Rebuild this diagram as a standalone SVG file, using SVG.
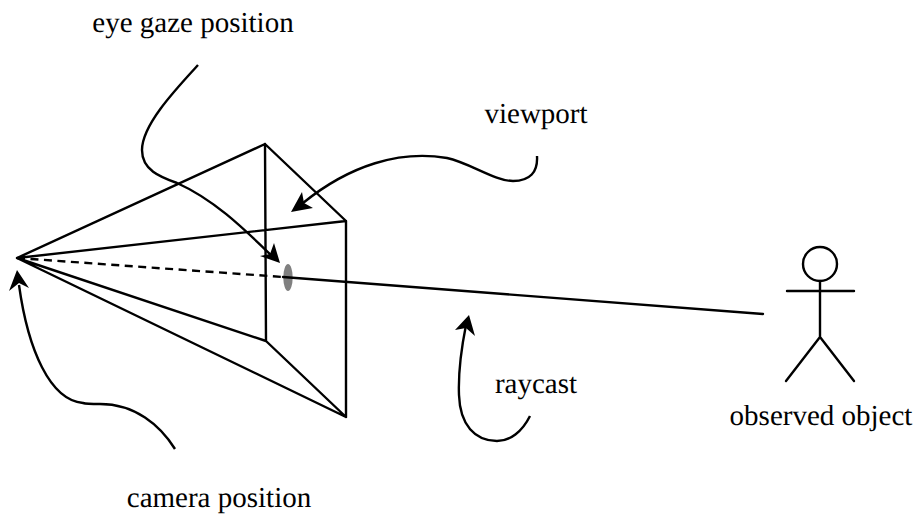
<svg xmlns="http://www.w3.org/2000/svg" width="915" height="516" viewBox="0 0 915 516">
<defs>
<style>
.l{fill:none;stroke:#000;stroke-width:2.4;stroke-linecap:round;stroke-linejoin:round}
.d{fill:none;stroke:#000;stroke-width:2.4;stroke-dasharray:8 5.5}
.c{fill:none;stroke:#000;stroke-width:2.4}
.h{fill:#000;stroke:none}
.t{font-family:"Liberation Serif","Times New Roman",serif;font-size:29px;fill:#000;text-rendering:geometricPrecision}
</style>
</defs>
<rect width="915" height="516" fill="#fff"/>
<g id="frustum">
<path class="l" d="M17 258 L265 144 L346 221 L17 258 M17 258 L266 341 L346 417 L17 258 M265 144 L266 341 M346 221 L346 417"/>
<path class="d" d="M17 258 L283 277"/>
</g>
<g id="gaze-point"><ellipse cx="288" cy="277.5" rx="4.7" ry="13.5" fill="#808080"/></g>
<g id="ray"><path class="l" d="M283 277 L763 314"/></g>
<g id="observed-object">
<circle cx="820" cy="264" r="17" class="l"/>
<path class="l" d="M820 281 L820 337 M787 291 L854 291 M820 337 L786 381 M820 337 L854 381"/>
<text class="t" x="821" y="425" text-anchor="middle">observed object</text>
</g>
<g id="connectors">
<path class="c" d="M198 65 C175 90 142 125 142 150 C142 170 160 177 177 183 C215 200 245 230 272 256"/>
<path class="h" d="M280 263 L260 256 L270 254 L274 243 Z"/>
<path class="c" d="M537 156 C538 172 530 181 513 181 C495 181 470 163 447 158 C400 150 350 165 303 203"/>
<path class="h" d="M291 212 L302 192 L304 203 L313 208 Z"/>
<path class="c" d="M175 449 C160 425 135 404 100 404 C90 404 86 404 83 403 C50 400 28 350 19 285"/>
<path class="h" d="M17 270 L29 288 L19 283 L9 291 Z"/>
<path class="c" d="M530 416 C522 432 510 441 497 441 C475 441 460 425 459 395 C458 370 462 345 466 325"/>
<path class="h" d="M469 315 L475 336 L466 328 L455 330 Z"/>
</g>
<g id="labels">
<text class="t" x="193" y="32" text-anchor="middle">eye gaze position</text>
<text class="t" x="536" y="123" text-anchor="middle">viewport</text>
<text class="t" x="536" y="393" text-anchor="middle">raycast</text>
<text class="t" x="219" y="507" text-anchor="middle">camera position</text>
</g>
</svg>
